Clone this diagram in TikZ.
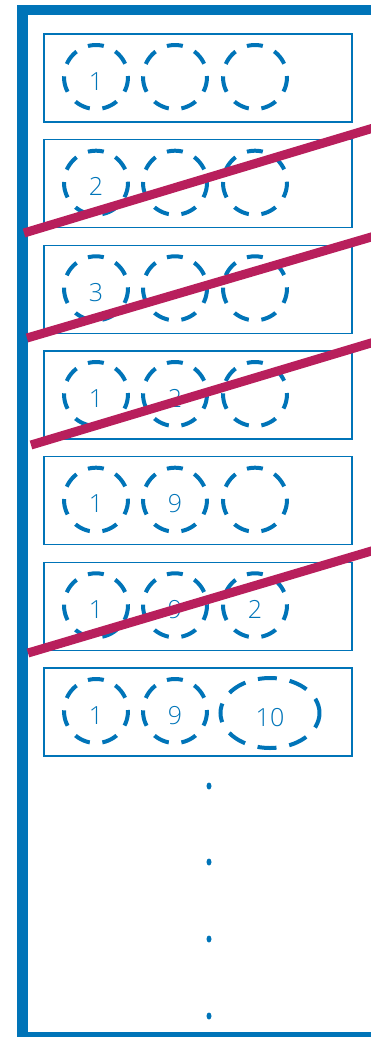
\documentclass[tikz,border=0pt]{standalone}
\usepackage{fontspec}
\setsansfont{Open Sans}
\IfFontExistsTF{Open Sans Light}
  {\newfontfamily\slotfont{Open Sans Light}}
  {\newfontfamily\slotfont{Open Sans}}
\usetikzlibrary{positioning,shapes.geometric,calc}
\definecolor{frameblue}{HTML}{0074B8}
\definecolor{strikered}{HTML}{B81F5C}

\begin{document}
\begin{tikzpicture}[x=1pt, y=-1pt,
  row/.style={draw=frameblue, line width=1.4pt, minimum width=308pt,
              minimum height=88pt, inner sep=0pt},
  slot/.style={circle, draw=frameblue, line width=4pt,
               dash pattern=on 16pt off 12.7pt, dash phase=15pt,
               minimum size=64pt, inner sep=0pt,
               text=frameblue, font=\slotfont\fontsize{25}{25}\selectfont,
               text height=26pt, text depth=0pt},
  wide/.style={slot, ellipse, minimum width=99pt, minimum height=70pt,
               dash pattern=on 19pt off 13pt, dash phase=4pt},
  strike/.style={draw=strikered, line width=9pt},
  dot/.style={ellipse, fill=frameblue, minimum width=5pt, minimum height=7pt,
              inner sep=0pt},
]
  \useasboundingbox (0,0) rectangle (371,1037);

  % outer frame, open on the right
  \draw[frameblue, line width=10.5pt] (390,10) -- (22.5,10) -- (22.5,1037.5) -- (390,1037.5);

  % rows
  \node[row] (r1) at (198,78)    {};
  \node[row] (r2) at (198,183.7) {};
  \node[row] (r3) at (198,289.3) {};
  \node[row] (r4) at (198,395)   {};
  \node[row] (r5) at (198,500.7) {};
  \node[row] (r6) at (198,606.3) {};
  \node[row] (r7) at (198,712)   {};

  \node[slot] (s1a) at (96,77)    {1};
  \node[slot] (s1b) at (175,77)   {};
  \node[slot] (s1c) at (255,77)   {};

  \node[slot] (s2a) at (96,182.7) {2};
  \node[slot] (s2b) at (175,182.7){};
  \node[slot] (s2c) at (255,182.7){};

  \node[slot] (s3a) at (96,288.3) {3};
  \node[slot] (s3b) at (175,288.3){};
  \node[slot] (s3c) at (255,288.3){};

  \node[slot] (s4a) at (96,394)   {1};
  \node[slot] (s4b) at (175,394)  {2};
  \node[slot] (s4c) at (255,394)  {};

  \node[slot] (s5a) at (96,499.7) {1};
  \node[slot] (s5b) at (175,499.7){9};
  \node[slot] (s5c) at (255,499.7){};

  \node[slot] (s6a) at (96,605.3) {1};
  \node[slot] (s6b) at (175,605.3){9};
  \node[slot] (s6c) at (255,605.3){2};

  \node[slot] (s7a) at (96,711)   {1};
  \node[slot] (s7b) at (175,711)  {9};
  \node[wide] (s7c) at (270,713)  {10};

  % struck-out rows
  \coordinate (k1a) at (24,233);  \coordinate (k1b) at (390,123);
  \coordinate (k2a) at (27,338);  \coordinate (k2b) at (390,231.5);
  \coordinate (k3a) at (31,445);  \coordinate (k3b) at (390,337.3);
  \coordinate (k4a) at (28,653);  \coordinate (k4b) at (390,545.5);
  \draw[strike] (k1a) -- (k1b);
  \draw[strike] (k2a) -- (k2b);
  \draw[strike] (k3a) -- (k3b);
  \draw[strike] (k4a) -- (k4b);

  % continuation dots
  \node[dot] (d1) at (209,786)  {};
  \node[dot] (d2) at (209,862)  {};
  \node[dot] (d3) at (209,939)  {};
  \node[dot] (d4) at (209,1016) {};
\end{tikzpicture}
\end{document}
